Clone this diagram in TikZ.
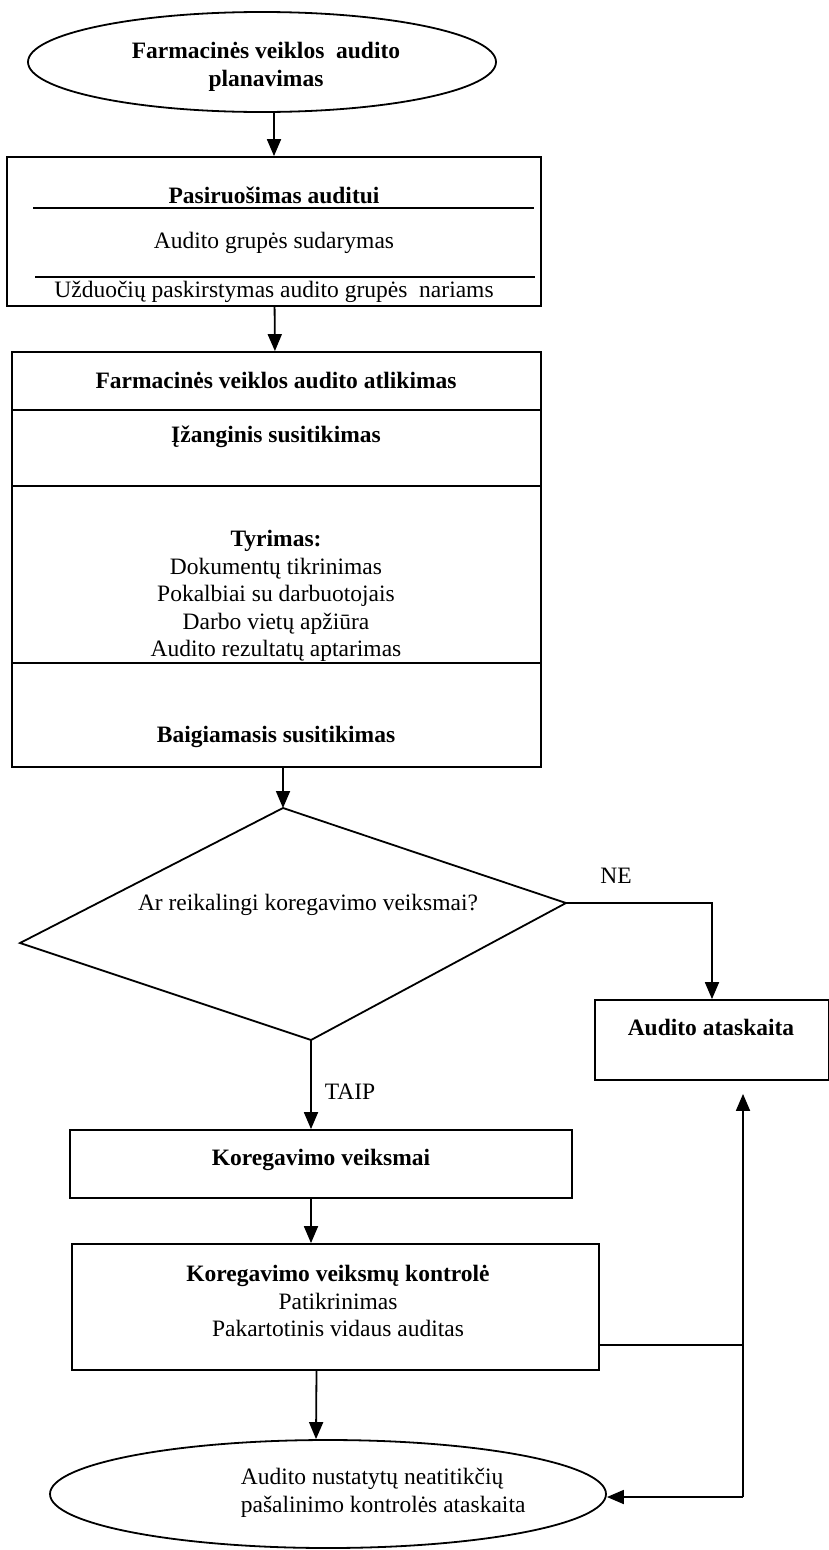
\documentclass[tikz,border=0pt]{standalone}
\usepackage{fontspec}
\setmainfont{Liberation Serif}
\usepackage{tikz}
\usetikzlibrary{positioning}
\usetikzlibrary{shapes.geometric}
\usetikzlibrary{arrows.meta}

\begin{document}
\begin{tikzpicture}[x=1pt, y=-1pt, line width=1.8pt,
every node/.style = {font=\fontsize{23.5}{27.5}\selectfont, inner sep=0pt, align=center},
  box/.style = {draw, rectangle},
  oval/.style = {draw, ellipse},
  arr/.style = {-{Triangle[length=17pt, width=14pt]}}
]
\useasboundingbox (0,0) rectangle (829,1550);
\node[oval, minimum width=468, minimum height=100] (start) at (262,62) {};
\node (start1) at (266,67) {\bfseries Farmacinės veiklos\ \ audito\\\bfseries planavimas};
\node[box, minimum width=534, minimum height=149] (prep) at (274,231.5) {};
\node (prep1) at (274,195) {\bfseries Pasiruošimas auditui};
\node (prep2) at (274,243) {Audito grupės sudarymas};
\node (prep3) at (274,292) {Užduočių paskirstymas audito grupės\ \ nariams};
\draw (33,208) -- (534,208);
\draw (35,277) -- (535,277);
\node[box, minimum width=529, minimum height=415] (work) at (276.5,559.5) {};
\node (work1) at (276,380) {\bfseries Farmacinės veiklos audito atlikimas};
\node (work2) at (276,437) {\bfseries Įžanginis susitikimas};
\node (work3) at (276,596) {\bfseries Tyrimas:\\Dokumentų tikrinimas\\Pokalbiai su darbuotojais\\Darbo vietų apžiūra\\Audito rezultatų aptarimas};
\node (work4) at (276,737) {\bfseries Baigiamasis susitikimas};
\draw (work.west |- 0,410) -- (work.east |- 0,410);
\draw (work.west |- 0,486) -- (work.east |- 0,486);
\draw (work.west |- 0,663) -- (work.east |- 0,663);
\coordinate (dt) at (283,808);
\coordinate (dl) at (20,943);
\coordinate (dr) at (566,903);
\coordinate (db) at (311,1040);
\draw (dt) -- (dr) -- (db) -- (dl) -- cycle;
\node (ask) at (308,905) {Ar reikalingi koregavimo veiksmai?};
\node[box, minimum width=234, minimum height=80] (report) at (712,1040) {};
\node (report1) at (711,1027) {\bfseries Audito ataskaita};
\node (ne) at (616,876) {NE};
\node (taip) at (350,1092) {TAIP};
\node[box, minimum width=502, minimum height=68] (fix) at (321,1164) {};
\node (fix1) at (321,1160) {\bfseries Koregavimo veiksmai};
\node[box, minimum width=527, minimum height=126] (check) at (335.5,1307) {};
\node (check1) at (338,1301) {\bfseries Koregavimo veiksmų kontrolė\\Patikrinimas\\Pakartotinis vidaus auditas};
\node[oval, minimum width=556, minimum height=108] (end) at (328,1494) {};
\node[align=left, anchor=west] (end1) at (240,1493) {Audito nustatytų neatitikčių\\pašalinimo kontrolės ataskaita};
\coordinate (rc) at (743,1345);
\coordinate (rb) at (743,1497);
\draw[arr] (start.south -| prep.north) -- (prep.north);
\draw[arr] (prep) -- (work);
\draw[arr] (dt |- work.south) -- (dt);
\draw[arr] (dr) -| (report.north);
\draw[arr] (db) -- (db |- fix.north);
\draw[arr] (db |- fix.south) -- (db |- check.north);
\draw[arr] ([xshift=-19pt]check.south) -- ([xshift=-12pt]end.north);
\draw (check.east |- rc) -- (rc);
\draw[arr, shorten >=13pt] (rb) -- (rb |- report.south);
\draw[arr] (rb) -- (rb -| end.east);
\end{tikzpicture}
\end{document}
